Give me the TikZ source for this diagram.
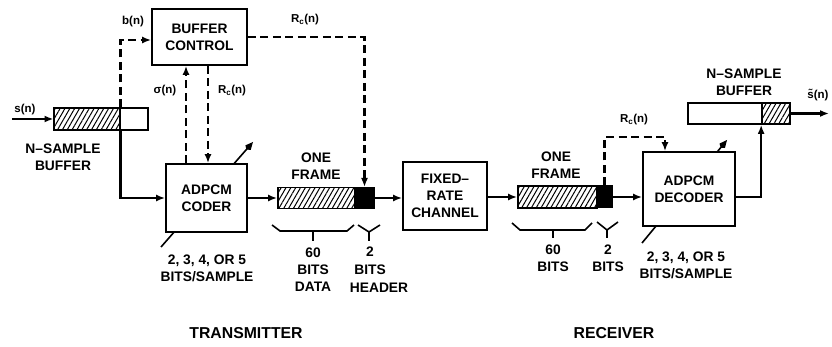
\documentclass[tikz,border=0pt]{standalone}
\usepackage{fontspec}
\setmainfont{Liberation Sans}
\usetikzlibrary{arrows.meta,patterns.meta}
\newcommand\dlab{\fontsize{13.8}{17}\selectfont\bfseries}
\newcommand\dsml{\fontsize{11.5}{13}\selectfont\bfseries}
\newcommand\dbig{\fontsize{15.8}{18}\selectfont\bfseries}
\begin{document}
\begin{tikzpicture}[x=1pt,y=-1pt,
  box/.style={draw, line width=1.7pt, fill=white, inner sep=0pt, align=center, font=\dlab},
  hatch/.style={draw, line width=1.7pt, inner sep=0pt, pattern={Lines[angle=60,distance=4.2pt,line width=1pt]}},
  wbox/.style={draw, line width=1.7pt, fill=white, inner sep=0pt},
  blk/.style={draw, line width=1pt, fill=black, inner sep=0pt},
  wire/.style={line width=2.1pt},
  arr/.style={wire, -{Latex[length=9pt,width=7pt]}},
  dsh/.style={line width=2.1pt, dash pattern=on 8pt off 4.5pt},
  darr/.style={dsh, -{Latex[length=9pt,width=7pt]}},
  varr/.style={line width=1.6pt, -{Kite[length=10pt,width=7pt]}},
  brc/.style={line width=1.6pt},
  txt/.style={font=\dlab, align=center, inner sep=0pt},
  sml/.style={font=\dsml, inner sep=0pt}
]
\useasboundingbox (0,0) rectangle (832,347);

% variable indicators (behind boxes)
\coordinate (cv1) at (161,247); \coordinate (cv2) at (253,142);
\coordinate (dv1) at (642,243); \coordinate (dv2) at (727,140);
\draw[varr] (cv1) -- (cv2);
\draw[varr] (dv1) -- (dv2);

% transmitter
\node[hatch, minimum width=66pt, minimum height=22pt] (inH) at (87,119) {};
\node[wbox, minimum width=28pt, minimum height=22pt] (inW) at (134,119) {};
\node[box, minimum width=95pt, minimum height=56pt] (ctrl) at (199.5,37) {BUFFER\\CONTROL};
\node[box, minimum width=81pt, minimum height=68pt] (coder) at (206.5,198) {ADPCM\\CODER};
\node[hatch, minimum width=77pt, minimum height=21pt] (f1H) at (316.5,198) {};
\node[blk, minimum width=19pt, minimum height=21pt] (f1K) at (364.5,198) {};
\node[box, minimum width=84pt, minimum height=68pt] (chan) at (445,196) {FIXED–\\RATE\\CHANNEL};

% receiver
\node[hatch, minimum width=79pt, minimum height=22pt] (f2H) at (557.5,197) {};
\node[blk, minimum width=15pt, minimum height=22pt] (f2K) at (604.5,197) {};
\node[box, minimum width=92pt, minimum height=74pt] (dec) at (689,189) {ADPCM\\DECODER};
\node[wbox, minimum width=74pt, minimum height=21pt] (outW) at (725,113.5) {};
\node[hatch, minimum width=28pt, minimum height=21pt] (outH) at (776,113.5) {};

% coordinates
\coordinate (sin) at (12,119);
\coordinate (sout) at (829,113.5);
\coordinate (sx) at (186,0);
\coordinate (rx) at (208,0);
\coordinate (rxk) at (665,137);

% connectors
\draw[arr] (sin) -- (inH.west);
\draw[arr] (inH.south east) |- (coder.west);
\draw[darr] (inH.north east) |- ([yshift=-3pt]ctrl.west);
\draw[darr] (coder.north -| sx) -- (ctrl.south -| sx);
\draw[darr] (ctrl.south -| rx) -- (coder.north -| rx);
\draw[arr] (coder.east) -- (f1H.west);
\draw[darr] (ctrl.east) -| (f1K.north);
\draw[arr] (f1K.east) -- (f1K.east -| chan.west);
\draw[arr] (chan.east |- f2H.west) -- (f2H.west);
\draw[arr] (f2K.east) -- (f2K.east -| dec.west);
\draw[darr] (f2K.north) |- (rxk) -- (dec.north -| rxk);
\draw[arr] (dec.east |- f2K.east) -| (outH.south west);
\draw[arr] (outH.east) -- (sout);

% braces
\draw[brc] (272,225) -- (280,231) -- (347,231) -- (354,225);
\draw[brc] (313,231) -- (313,241);
\draw[brc] (358,225) -- (369,232) -- (380,225);
\draw[brc] (369,232) -- (369,241);
\draw[brc] (512,223) -- (520,230) -- (585,230) -- (592,223);
\draw[brc] (553,230) -- (553,238);
\draw[brc] (597,222) -- (607,230) -- (618,222);
\draw[brc] (607,230) -- (607,238);

% labels
\node[sml] (sn) at (25,110) {s(n)};
\node[sml] (bn) at (133,22) {b(n)};
\node[sml] (sig) at (165,91) {σ(n)};
\node[sml] (rc1) at (232,91) {R\textsubscript{c}(n)};
\node[sml] (rc2) at (305,20) {R\textsubscript{c}(n)};
\node[sml] (rc3) at (634,120) {R\textsubscript{c}(n)};
\node[sml] (so) at (818,95) {\~{s}(n)};
\node[txt] (nsb1) at (63,157) {N–SAMPLE\\BUFFER};
\node[txt] (nsb2) at (744,82) {N–SAMPLE\\BUFFER};
\node[txt] (one1) at (316,166) {ONE\\FRAME};
\node[txt] (one2) at (556,165) {ONE\\FRAME};
\node[txt] (bps1) at (207,268) {2, 3, 4, OR 5\\BITS/SAMPLE};
\node[txt] (bps2) at (686,265) {2, 3, 4, OR 5\\BITS/SAMPLE};
\node[txt] (d60) at (313,270) {60\\BITS\\DATA};
\node[txt] (h2) at (370,252) {2};
\node[txt] (hb) at (370,270) {BITS};
\node[txt] (hh) at (379,288) {HEADER};
\node[txt] (r60) at (553,258.5) {60\\BITS};
\node[txt] (r2) at (608,258.5) {2\\BITS};
\node[txt, font=\dbig] (tx) at (246,333) {TRANSMITTER};
\node[txt, font=\dbig] (rcv) at (614,333) {RECEIVER};
\end{tikzpicture}
\end{document}
